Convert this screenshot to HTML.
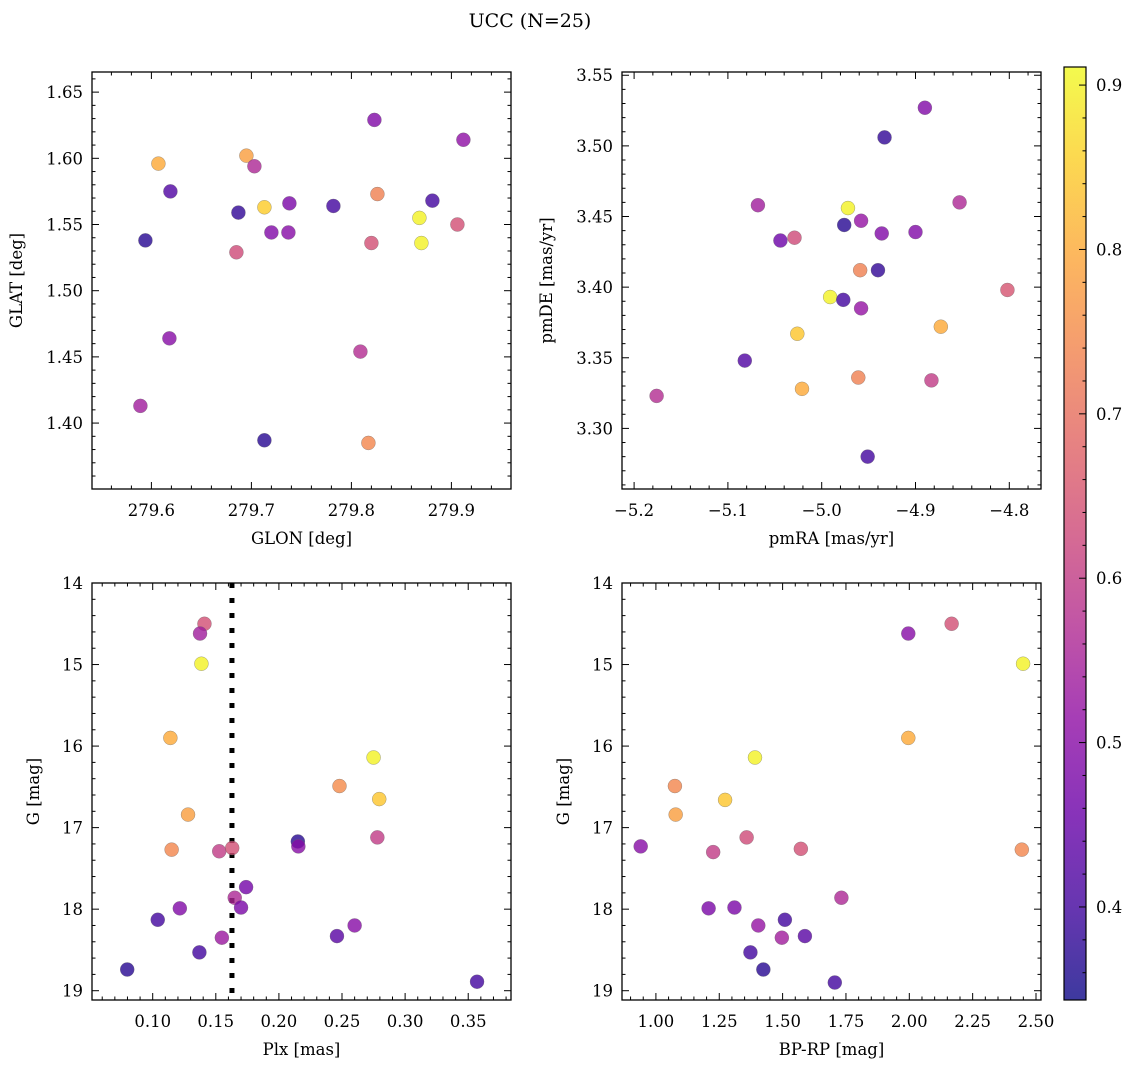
<!DOCTYPE html>
<html><head><meta charset="utf-8">
<style>
html,body{margin:0;padding:0;background:#fff;}
svg{display:block;font-family:"DejaVu Serif","Liberation Serif",serif;}
</style></head>
<body>
<svg id="fig" width="1136" height="1067" viewBox="0 0 1136 1067" xmlns="http://www.w3.org/2000/svg">
<defs>
<linearGradient id="plasma" x1="0" y1="1" x2="0" y2="0">
<stop offset="0" stop-color="#0d0887"/><stop offset="0.1" stop-color="#41049d"/>
<stop offset="0.2" stop-color="#6a00a8"/><stop offset="0.3" stop-color="#8f0da4"/>
<stop offset="0.4" stop-color="#b12a90"/><stop offset="0.5" stop-color="#cc4778"/>
<stop offset="0.6" stop-color="#e16462"/><stop offset="0.7" stop-color="#f2844b"/>
<stop offset="0.8" stop-color="#fca636"/><stop offset="0.9" stop-color="#fcce25"/>
<stop offset="1" stop-color="#f0f921"/>
</linearGradient>
</defs>
<text x="530" y="27" font-size="19" text-anchor="middle">UCC (N=25)</text>
</svg>
<script>
// ---- data: top-left (GLON vs GLAT)
const tlGlon = [279.607,279.619,279.594,279.618,279.589,279.695,279.703,279.687,279.713,279.738,279.720,279.737,279.685,279.713,279.782,279.823,279.826,279.820,279.809,279.817,279.868,279.870,279.881,279.912,279.906];
const tlGlat = [1.596,1.575,1.538,1.464,1.413,1.602,1.594,1.559,1.563,1.566,1.544,1.544,1.529,1.387,1.564,1.629,1.573,1.536,1.454,1.385,1.555,1.536,1.568,1.614,1.550];
const tlProb = [0.80,0.42,0.37,0.50,0.54,0.78,0.56,0.38,0.85,0.48,0.49,0.50,0.63,0.37,0.40,0.49,0.73,0.64,0.57,0.74,0.90,0.90,0.40,0.51,0.64];
// ---- data: top-right (pmRA vs pmDE)
const trPmra = [-5.176,-5.082,-5.068,-5.044,-5.029,-5.026,-5.021,-4.991,-4.977,-4.976,-4.972,-4.958,-4.959,-4.958,-4.961,-4.951,-4.936,-4.940,-4.933,-4.900,-4.890,-4.873,-4.883,-4.853,-4.802];
const trPmde = [3.323,3.348,3.458,3.433,3.435,3.367,3.328,3.393,3.391,3.444,3.456,3.447,3.412,3.385,3.336,3.280,3.438,3.412,3.506,3.439,3.527,3.372,3.334,3.460,3.398];
const trProb = [0.57,0.42,0.54,0.46,0.63,0.84,0.80,0.90,0.40,0.37,0.90,0.52,0.73,0.52,0.73,0.40,0.49,0.38,0.38,0.49,0.49,0.80,0.60,0.56,0.65];
// ---- data: bottom-left (Plx vs G)
const blPlx = [0.0798,0.104,0.1215,0.137,0.114,0.128,0.115,0.141,0.1375,0.1386,0.1527,0.1548,0.163,0.165,0.170,0.174,0.215,0.2154,0.246,0.260,0.248,0.275,0.2795,0.278,0.357];
const blG = [18.74,18.13,17.99,18.53,15.90,16.84,17.27,14.50,14.62,14.99,17.29,18.35,17.25,17.86,17.98,17.73,17.17,17.23,18.33,18.20,16.49,16.14,16.65,17.12,18.89];
const blProb = [0.37,0.40,0.49,0.40,0.80,0.78,0.74,0.64,0.54,0.90,0.60,0.53,0.64,0.56,0.48,0.47,0.37,0.50,0.43,0.50,0.75,0.90,0.84,0.60,0.40];
const plxLine = 0.1628;
// ---- data: bottom-right (BP-RP vs G)
const brBprp = [0.940,1.075,1.078,1.226,1.208,1.273,1.310,1.358,1.391,1.373,1.404,1.424,1.497,1.509,1.588,1.572,1.732,1.706,1.996,1.996,2.167,2.449,2.444];
const brG = [17.23,16.49,16.84,17.30,17.99,16.66,17.98,17.12,16.14,18.53,18.20,18.74,18.35,18.13,18.33,17.26,17.86,18.90,15.90,14.62,14.50,14.99,17.27];
const brProb = [0.50,0.74,0.78,0.60,0.48,0.84,0.48,0.63,0.90,0.40,0.52,0.37,0.54,0.40,0.43,0.64,0.56,0.40,0.80,0.50,0.64,0.90,0.74];
// ---- colorbar ticks
const cbTicks = [0.4,0.5,0.6,0.7,0.8,0.9];
const cbMin = 0.3434, cbMax = 0.911;

const NS = "http://www.w3.org/2000/svg";
const fig = document.getElementById('fig');
function mk(tag, attrs, parent){
  const e = document.createElementNS(NS, tag);
  for (const k in attrs) e.setAttribute(k, attrs[k]);
  (parent||fig).appendChild(e);
  return e;
}
const stops=[[13,8,135],[65,4,157],[106,0,168],[143,13,164],[177,42,144],[204,71,120],[225,100,98],[242,132,75],[252,166,54],[252,206,37],[240,249,33]];
function plasma(v){
  let t=(v-cbMin)/(cbMax-cbMin); t=Math.max(0,Math.min(1,t));
  const f=t*10, i=Math.min(9,Math.floor(f)), r=f-i;
  const c=stops[i].map((a,k)=>Math.round(a+(stops[i+1][k]-a)*r));
  return 'rgb('+c.join(',')+')';
}

function panel(cfg){
  const g = mk('g', {});
  
  
  const L=cfg.L,R=cfg.R,T=cfg.T,B=cfg.B;
  const sx = v => L + (v-cfg.x0)/(cfg.x1-cfg.x0)*(R-L);
  const sy = cfg.invert ? (v => T + (v-cfg.y0)/(cfg.y1-cfg.y0)*(B-T)) : (v => B - (v-cfg.y0)/(cfg.y1-cfg.y0)*(B-T));
  const eps=1e-9;
  const mnX = cfg.xStep/cfg.xMinor, mnY = cfg.yStep/cfg.yMinor;
  for (let k=Math.ceil(cfg.x0/mnX-eps); k*mnX<=cfg.x1+eps; k++){
    const v=k*mnX, x=sx(v), major=Math.abs(k%cfg.xMinor)===0, len=major?7:3.5;
    const t1=mk('line',{x1:x,x2:x,y1:B,y2:B-len,stroke:'#000','stroke-width':1},g);
    
    
    mk('line',{x1:x,x2:x,y1:T,y2:T+len,stroke:'#000','stroke-width':1},g);
    if(major){
      const tl=mk('text',{x:x,y:B+27,'font-size':16.5,'text-anchor':'middle'},g);
      
      
      tl.textContent=(v<0?'\u2212':'')+Math.abs(v).toFixed(cfg.xDec);
    }
  }
  for (let k=Math.ceil(Math.min(cfg.y0,cfg.y1)/mnY-eps); k*mnY<=Math.max(cfg.y0,cfg.y1)+eps; k++){
    const v=k*mnY, y=sy(v), major=Math.abs(k%cfg.yMinor)===0, len=major?7:3.5;
    const t1=mk('line',{x1:L,x2:L+len,y1:y,y2:y,stroke:'#000','stroke-width':1},g);
    
    
    mk('line',{x1:R,x2:R-len,y1:y,y2:y,stroke:'#000','stroke-width':1},g);
    if(major){
      const tl=mk('text',{x:L-9,y:y+6,'font-size':16.5,'text-anchor':'end'},g);
      
      
      tl.textContent=v.toFixed(cfg.yDec);
    }
  }
  if (cfg.vline!==undefined){
    const vl=mk('line',{x1:sx(cfg.vline),x2:sx(cfg.vline),y1:T,y2:B,stroke:'#000','stroke-width':5,'stroke-dasharray':'5 10'},g);
    
    
  }
  for (let i=0;i<cfg.xs.length;i++){
    const c=mk('circle',{cx:sx(cfg.xs[i]),cy:sy(cfg.ys[i]),r:7,fill:plasma(cfg.cs[i]),'fill-opacity':0.8,stroke:'#666','stroke-opacity':0.6,'stroke-width':0.5},g);
    
    
  }
  const fr=mk('rect',{x:L,y:T,width:R-L,height:B-T,fill:'none',stroke:'#000','stroke-width':1.3},g);
  
  
  const xl=mk('text',{x:(L+R)/2,y:B+55,'font-size':16.5,'text-anchor':'middle'},g);
  
  
  xl.textContent=cfg.xlabel;
  const yx=cfg.ylx, yy=(T+B)/2;
  const yl=mk('text',{x:yx,y:yy,'font-size':16.5,'text-anchor':'middle',transform:'rotate(-90 '+yx+' '+yy+')'},g);
  
  
  yl.textContent=cfg.ylabel;
}

panel({name:'glon-glat-panel',L:92,R:511,T:72,B:489,x0:279.5406,x1:279.9596,y0:1.3502,y1:1.6652,
  xStep:0.1,xMinor:5,yStep:0.05,yMinor:5,xDec:1,yDec:2,xs:tlGlon,ys:tlGlat,cs:tlProb,xlabel:'GLON [deg]',ylabel:'GLAT [deg]',ylx:22});
panel({name:'pm-panel',L:622,R:1041,T:72,B:489,x0:-5.2129,x1:-4.7662,y0:3.2571,y1:3.5523,
  xStep:0.1,xMinor:5,yStep:0.05,yMinor:5,xDec:1,yDec:2,xs:trPmra,ys:trPmde,cs:trProb,xlabel:'pmRA [mas/yr]',ylabel:'pmDE [mas/yr]',ylx:552});
panel({name:'plx-g-panel',L:92,R:511,T:583,B:1000,x0:0.0519,x1:0.3839,y0:14,y1:19.114,invert:true,
  xStep:0.05,xMinor:5,yStep:1,yMinor:5,xDec:2,yDec:0,xs:blPlx,ys:blG,cs:blProb,xlabel:'Plx [mas]',ylabel:'G [mag]',ylx:39,vline:plxLine});
panel({name:'cmd-panel',L:622,R:1041,T:583,B:1000,x0:0.8662,x1:2.5197,y0:14,y1:19.114,invert:true,
  xStep:0.25,xMinor:5,yStep:1,yMinor:5,xDec:2,yDec:0,xs:brBprp,ys:brG,cs:brProb,xlabel:'BP-RP [mag]',ylabel:'G [mag]',ylx:569});

// colorbar
(function(){
  const g=mk('g',{});
  
  
  const L=1064,R=1086,T=67,B=1000;
  const sy=v=>B-(v-cbMin)/(cbMax-cbMin)*(B-T);
  const bar=mk('rect',{x:L,y:T,width:R-L,height:B-T,fill:'url(#plasma)','fill-opacity':0.8},g);
  
  
  for(let k=Math.ceil(cbMin/0.02);k*0.02<=cbMax;k++){
    const v=k*0.02, y=sy(v), major=(k%5===0);
    mk('line',{x1:R,x2:R-(major?7:3.5),y1:y,y2:y,stroke:'#000','stroke-width':1},g);
  }
  for(let i=0;i<cbTicks.length;i++){
    const t=mk('text',{x:R+10,y:sy(cbTicks[i])+6,'font-size':16.5},g);
    
    
    t.textContent=cbTicks[i].toFixed(1);
  }
  mk('rect',{x:L,y:T,width:R-L,height:B-T,fill:'none',stroke:'#000','stroke-width':1.2},g);
})();
</script>
</body></html>
